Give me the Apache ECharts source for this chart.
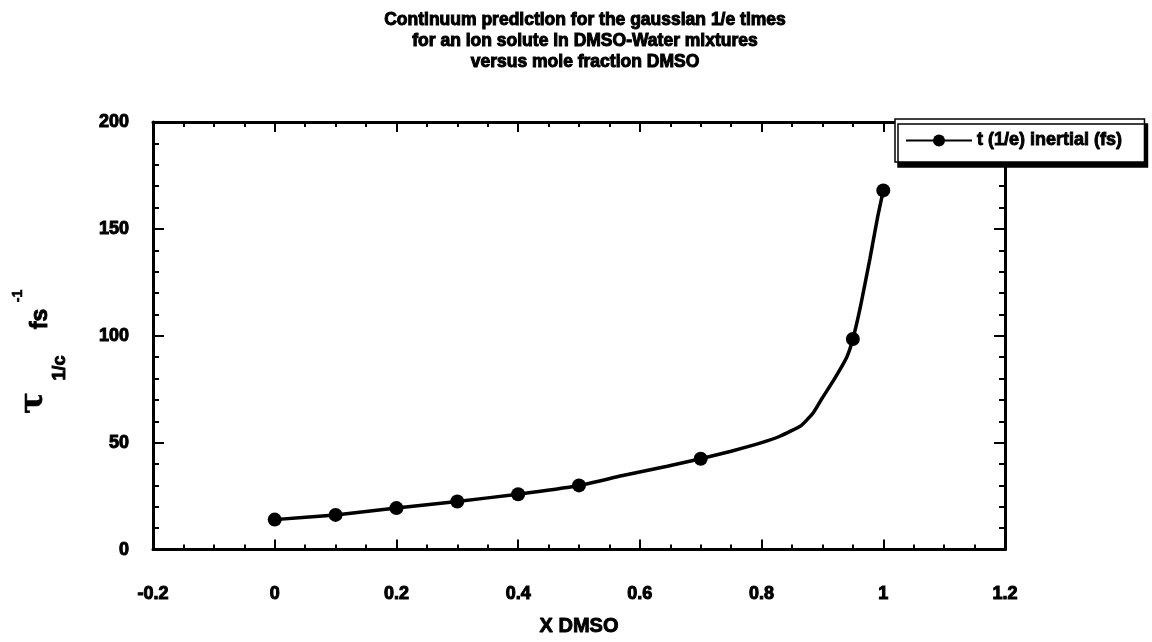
<!DOCTYPE html>
<html>
<head>
<meta charset="utf-8">
<script src="https://cdn.jsdelivr.net/npm/echarts@6/dist/echarts.min.js"></script>
<style>
html,body{margin:0;padding:0;background:#fff;}
#chart{width:1152px;height:642px;}
</style>
</head>
<body>
<div id="chart"></div>
<script>
// ---- data ----
const titleLines = [
  'Continuum prediction for the gaussian 1/e times',
  'for an ion solute in DMSO-Water mixtures',
  'versus mole fraction DMSO'
];
const seriesName = 't (1/e) inertial (fs)';
const xDmso = [0, 0.1, 0.2, 0.3, 0.4, 0.5, 0.57, 0.645, 0.7, 0.75, 0.8, 0.83, 0.865, 0.885, 0.9, 0.92, 0.94, 0.95, 0.962, 0.978, 0.991, 1.0];
const tauInertial = [14, 16.2, 19.4, 22.5, 25.9, 30, 34.5, 39, 42.5, 46, 50, 53, 58, 64, 71, 80, 90, 98.5, 113, 136, 156, 168];
const markedX = [0, 0.1, 0.2, 0.3, 0.4, 0.5, 0.7, 0.95, 1.0];
const xAxisRange = [-0.2, 1.2, 0.2];
const yAxisRange = [0, 200, 50];

const seriesData = xDmso.map((x, i) => {
  const item = { value: [x, tauInertial[i]] };
  if (markedX.indexOf(x) < 0) item.symbol = 'none';
  return item;
});

const labelFont = { fontFamily: 'Liberation Sans, Arial, sans-serif', fontWeight: 'bold', color: '#000',
  textBorderColor: '#000', textBorderWidth: 1 };

const baseX = {
  type: 'value', min: xAxisRange[0], max: xAxisRange[1], interval: xAxisRange[2],
  axisLine: { show: true, onZero: false, lineStyle: { color: '#000', width: 3 } },
  axisTick: { show: true, inside: true, length: 10, lineStyle: { color: '#000', width: 2 } },
  minorTick: { show: true, splitNumber: 4, length: 5, lineStyle: { color: '#000', width: 2 } },
  splitLine: { show: false }, minorSplitLine: { show: false }
};
const baseY = {
  type: 'value', min: yAxisRange[0], max: yAxisRange[1], interval: yAxisRange[2],
  axisLine: { show: true, onZero: false, lineStyle: { color: '#000', width: 3 } },
  axisTick: { show: true, inside: true, length: 11, lineStyle: { color: '#000', width: 2 } },
  minorTick: { show: true, splitNumber: 5, length: 6, lineStyle: { color: '#000', width: 2 } },
  splitLine: { show: false }, minorSplitLine: { show: false }
};

const chart = echarts.init(document.getElementById('chart'), null, { renderer: 'canvas' });
chart.setOption({
  backgroundColor: '#fff',
  animation: false,
  title: {
    text: titleLines.join('\n'),
    left: 580, top: 5, textAlign: 'center',
    textStyle: Object.assign({}, labelFont, { fontSize: 17.5, lineHeight: 21, textBorderWidth: 1 })
  },
  legend: {
    left: 895, top: 119,
    padding: [12, 22, 12, 10],
    itemWidth: 66, itemHeight: 15, itemGap: 0,
    backgroundColor: '#fff', borderColor: '#000', borderWidth: 1.5,
    shadowColor: '#000', shadowBlur: 0, shadowOffsetX: 3, shadowOffsetY: 5,
    textStyle: Object.assign({}, labelFont, { fontSize: 18, textBorderWidth: 0.9 }),
    data: [seriesName]
  },
  grid: { left: 153, right: 147, top: 122, bottom: 87, containLabel: false },
  xAxis: [
    Object.assign({}, baseX, {
      position: 'bottom',
      name: 'X DMSO', nameLocation: 'middle', nameGap: 67,
      nameTextStyle: Object.assign({}, labelFont, { fontSize: 20, textBorderWidth: 0.9 }),
      axisLabel: Object.assign({}, labelFont, { fontSize: 18, margin: 35 })
    }),
    Object.assign({}, baseX, { position: 'top', axisLabel: { show: false } })
  ],
  yAxis: [
    Object.assign({}, baseY, {
      position: 'left',
      axisLabel: Object.assign({}, labelFont, { fontSize: 18, margin: 24 })
    }),
    Object.assign({}, baseY, { position: 'right', axisLabel: { show: false } })
  ],
  graphic: [
    { type: 'text', x: 34, y: 403, rotation: Math.PI / 2,
      style: { text: '\u03c4', font: 'bold 32px "DejaVu Serif", serif', fill: '#000', stroke: '#000', lineWidth: 0.6, align: 'center', verticalAlign: 'middle' } },
    { type: 'text', x: 60, y: 368, rotation: Math.PI / 2,
      style: { text: '1/c', font: 'bold 18px "Liberation Sans", Arial, sans-serif', fill: '#000', stroke: '#000', lineWidth: 0.9, align: 'center', verticalAlign: 'middle' } },
    { type: 'text', x: 41, y: 319, rotation: Math.PI / 2,
      style: { text: 'fs', font: 'bold 23px "Liberation Sans", Arial, sans-serif', fill: '#000', stroke: '#000', lineWidth: 0.9, align: 'center', verticalAlign: 'middle' } },
    { type: 'text', x: 18, y: 296, rotation: Math.PI / 2,
      style: { text: '-1', font: 'bold 14px "Liberation Sans", Arial, sans-serif', fill: '#000', stroke: '#000', lineWidth: 0.6, align: 'center', verticalAlign: 'middle' } }
  ],
  series: [{
    name: seriesName,
    type: 'line',
    xAxisIndex: 0, yAxisIndex: 0,
    data: seriesData,
    smooth: 0.15,
    symbol: 'circle', symbolSize: 14,
    showAllSymbol: true,
    lineStyle: { color: '#000', width: 3.5 },
    itemStyle: { color: '#000' },
    emphasis: { disabled: true }
  }]
});
</script>
</body>
</html>
